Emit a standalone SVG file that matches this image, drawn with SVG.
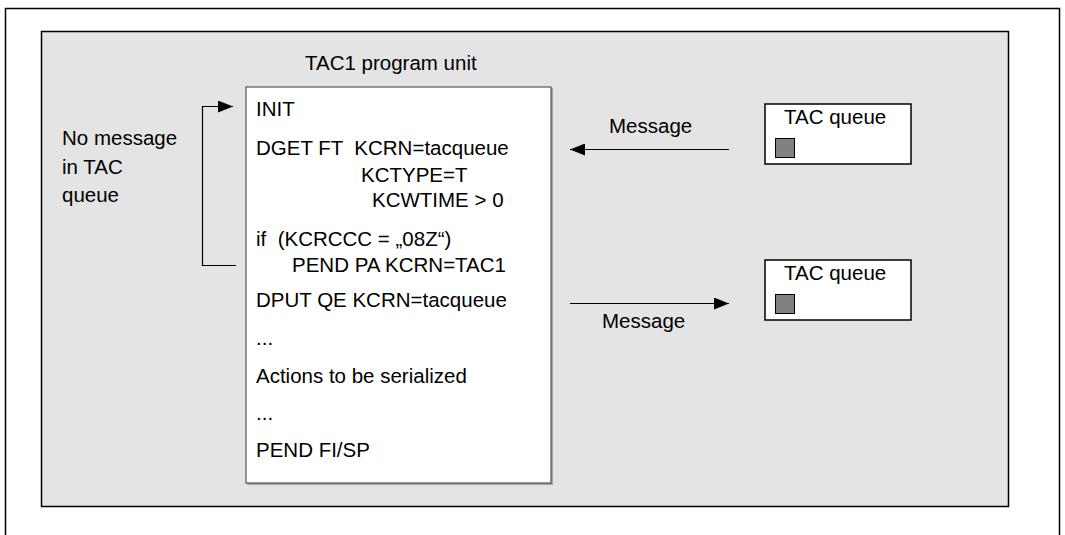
<svg xmlns="http://www.w3.org/2000/svg" width="1065" height="535" viewBox="0 0 1065 535">
<defs>
<style>
text{font-family:"Liberation Sans",Arial,sans-serif;font-size:20.5px;fill:#000}
.ln{stroke:#000;stroke-width:1.2;fill:none}
.q{fill:#fff;stroke:#000;stroke-width:1.5}
.sq{fill:#808080;stroke:#000;stroke-width:1}
</style>
<marker id="ah" viewBox="0 0 15 12" refX="15" refY="6" markerWidth="15" markerHeight="12" markerUnits="userSpaceOnUse" orient="auto">
<path d="M0,0 L15,6 L0,12 z" fill="#000"/>
</marker>
</defs>
<path d="M5.5,535 V8.5 H1059.5 V535" fill="none" stroke="#000" stroke-width="1.5"/>
<rect x="41.5" y="31.5" width="967" height="475" fill="#e4e4e4" stroke="#000" stroke-width="1.5"/>
<g id="program-unit">
<text x="305" y="70">TAC1 program unit</text>
<rect x="247" y="88" width="306" height="397" fill="#404040" opacity="0.4"/>
<rect x="246" y="87" width="305" height="396" fill="#fff" stroke="#555" stroke-width="1.2"/>
<text x="256" y="116">INIT</text>
<text x="256" y="155" xml:space="preserve">DGET FT  KCRN=tacqueue</text>
<text x="361" y="182">KCTYPE=T</text>
<text x="372" y="207">KCWTIME &gt; 0</text>
<text x="256" y="246" xml:space="preserve">if  (KCRCCC = „08Z“)</text>
<text x="292" y="272">PEND PA KCRN=TAC1</text>
<text x="256" y="307">DPUT QE KCRN=tacqueue</text>
<text x="256" y="345">...</text>
<text x="256" y="383">Actions to be serialized</text>
<text x="256" y="420">...</text>
<text x="256" y="457">PEND FI/SP</text>
</g>
<g id="loop-label">
<text x="62" y="145">No message</text>
<text x="62" y="174">in TAC</text>
<text x="62" y="202">queue</text>
</g>
<g id="tac-queue-1">
<rect class="q" x="765" y="104" width="146" height="60"/>
<text x="784" y="124">TAC queue</text>
<rect class="sq" x="775.5" y="138.5" width="19" height="19"/>
</g>
<g id="tac-queue-2">
<rect class="q" x="765" y="260" width="146" height="60"/>
<text x="784" y="280">TAC queue</text>
<rect class="sq" x="775.5" y="294.5" width="19" height="19"/>
</g>
<g id="connectors">
<path class="ln" d="M236,265.5 H202.5 V106.5 H233" marker-end="url(#ah)"/>
<path class="ln" d="M729,149.5 H570" marker-end="url(#ah)"/>
<text x="609" y="133">Message</text>
<path class="ln" d="M570,303.5 H729" marker-end="url(#ah)"/>
<text x="602" y="328">Message</text>
</g>
</svg>
